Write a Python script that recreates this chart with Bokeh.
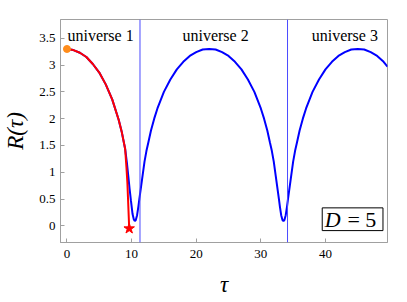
from bokeh.plotting import figure
from bokeh.models import Range1d, FixedTicker, Label, BoxAnnotation, Span
from bokeh.embed import file_html
from bokeh.resources import INLINE

# ---- data ----
tau_blue = [0, 1, 2, 3, 4, 5, 6, 7, 8, 8.5, 9, 9.3, 9.5, 9.7, 9.9, 10.15, 10.35, 10.5,
            10.65, 10.85, 11.05, 11.2, 11.6, 12.0, 12.3, 12.6, 13, 13.5, 14, 15, 16, 17, 18, 19, 20, 21, 22,
            23, 24, 25, 26, 27, 28, 29, 30, 30.5, 31, 31.4, 31.7, 32.0, 32.4, 32.8, 32.95, 33.15, 33.35, 33.5,
            33.65, 33.85, 34.05, 34.2, 34.6, 35.0, 35.3, 35.6, 36.0, 36.5, 37, 38, 39, 40, 41, 42, 43, 44, 45,
            46, 47, 48, 49, 49.6]
R_blue = [3.30, 3.28, 3.23, 3.15, 3.02, 2.86, 2.64, 2.36, 1.98, 1.74, 1.44, 1.15, 0.92, 0.68, 0.47, 0.22, 0.12, 0.09,
          0.11, 0.20, 0.36, 0.50, 0.85, 1.20, 1.40, 1.56, 1.78, 2.00, 2.19, 2.50, 2.73, 2.92, 3.06, 3.17, 3.24, 3.29, 3.30,
          3.29, 3.24, 3.17, 3.06, 2.92, 2.73, 2.50, 2.19, 2.00, 1.78, 1.56, 1.40, 1.20, 0.85, 0.50, 0.36, 0.20, 0.11, 0.09,
          0.11, 0.20, 0.36, 0.50, 0.85, 1.20, 1.40, 1.56, 1.78, 2.00, 2.19, 2.50, 2.73, 2.92, 3.06, 3.17, 3.24, 3.29, 3.30,
          3.29, 3.24, 3.17, 3.06, 2.97]

tau_red = [0, 1, 2, 3, 4, 5, 6, 7, 8, 8.5, 9, 9.2, 9.35, 9.45, 9.55, 9.63]
R_red = [3.30, 3.28, 3.23, 3.15, 3.02, 2.86, 2.64, 2.36, 1.98, 1.74, 1.44, 1.10, 0.80, 0.50, 0.20, -0.05]

start_tau, start_R = [0], [3.30]
end_tau, end_R = [9.63], [-0.05]

boundary_tau = [11.3, 34.13]

universe_labels = ["universe 1", "universe 2", "universe 3"]
universe_tau = [5.2, 23.0, 43.0]
universe_R = [3.55, 3.55, 3.55]

x_ticks = [0, 10, 20, 30, 40]
x_tick_labels = ["0", "10", "20", "30", "40"]
y_ticks = [0, 0.5, 1, 1.5, 2, 2.5, 3, 3.5]
y_tick_labels = ["0", "0.5", "1", "1.5", "2", "2.5", "3", "3.5"]

FONT = "serif"
GRAY = "#a0a0a0"

p = figure(width=407, height=302, output_backend="svg", toolbar_location=None,
           x_range=Range1d(-1, 49.6), y_range=Range1d(-0.31, 3.85),
           min_border_left=59, min_border_right=20, min_border_top=19, min_border_bottom=60)
p.background_fill_color = "white"
p.border_fill_color = "white"
p.outline_line_color = GRAY
p.outline_line_width = 1
p.xgrid.visible = False
p.ygrid.visible = False

for ax in (p.xaxis[0], p.yaxis[0]):
    ax.axis_line_color = GRAY
    ax.major_tick_line_color = GRAY
    ax.major_tick_in = 4
    ax.major_tick_out = 0
    ax.minor_tick_line_color = None
    ax.major_label_text_font = FONT
    ax.major_label_text_font_size = "13px"
    ax.major_label_text_color = "black"
    ax.axis_label_text_font = FONT
    ax.axis_label_text_font_style = "italic"
    ax.axis_label_text_font_size = "23px"
    ax.axis_label_text_color = "black"

p.xaxis.ticker = FixedTicker(ticks=x_ticks)
p.xaxis.major_label_overrides = dict(zip(x_ticks, x_tick_labels))
p.yaxis.ticker = FixedTicker(ticks=y_ticks)
p.yaxis.major_label_overrides = dict(zip(y_ticks, y_tick_labels))
p.xaxis.axis_label = "τ"
p.yaxis.axis_label = "R(τ)"
p.xaxis.major_label_standoff = 7
p.yaxis.major_label_standoff = 5
p.xaxis.axis_label_standoff = 11
p.yaxis.axis_label_standoff = 8

for t in boundary_tau:
    p.add_layout(Span(location=t, dimension="height", line_color="#4b4bff", line_width=1))

p.line(tau_blue, R_blue, line_color="#0000ff", line_width=2)
p.line(tau_red, R_red, line_color="#ff0000", line_width=2)
p.scatter(start_tau, start_R, marker="circle", size=7, fill_color="#ff8c1a", line_color="#ff8c1a")
p.scatter(end_tau, end_R, marker="star", size=11, fill_color="#ff0000", line_color="#ff0000")

for txt, t, r in zip(universe_labels, universe_tau, universe_R):
    p.add_layout(Label(x=t, y=r, text=txt, text_align="center", text_baseline="middle",
                       text_font=FONT, text_font_size="16px", text_color="black"))

# D = 5 box
p.add_layout(BoxAnnotation(left=39.5, right=48.9, bottom=-0.088, top=0.336,
                           fill_color="white", fill_alpha=1.0, line_color="black", line_width=1, line_alpha=1.0))
p.add_layout(Label(x=39.9, y=0.124, text="D", text_align="left", text_baseline="middle",
                   text_font=FONT, text_font_style="italic", text_font_size="22px", text_color="black"))
p.add_layout(Label(x=43.4, y=0.124, text="= 5", text_align="left", text_baseline="middle",
                   text_font=FONT, text_font_size="22px", text_color="black"))

open("out.html", "w").write(file_html(p, INLINE))
